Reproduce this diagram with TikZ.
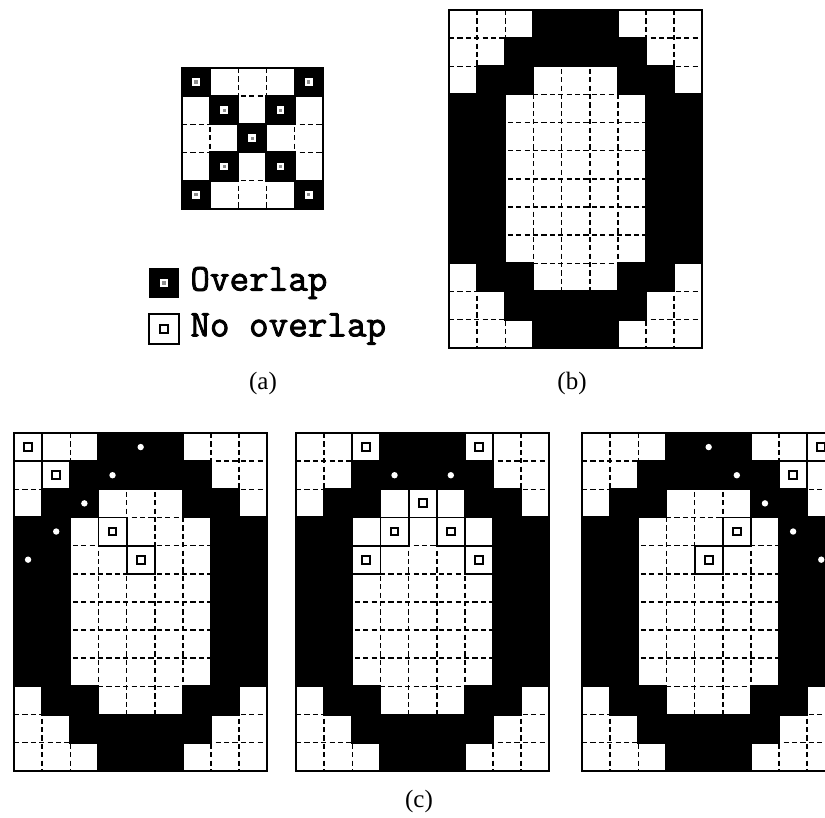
\documentclass[tikz,border=0pt]{standalone}
\usepackage{fontspec}
\setmainfont{Liberation Serif}
\setmonofont[AutoFakeBold=2.2]{Latin Modern Mono}
\usetikzlibrary{positioning}

% the 9x12 footprint with its overlap cells
\newcommand{\ovalgrid}{%
  \foreach \i in {1,...,8} \draw[gridline] (\i,0) -- (\i,12);
  \foreach \j in {1,...,11} \draw[gridline] (0,\j) -- (9,\j);
  \foreach \xa/\ya/\xb/\yb in {3/0/6/1, 2/1/7/2, 1/2/3/3, 6/2/8/3, 0/3/2/9,
      7/3/9/9, 1/9/3/10, 6/9/8/10, 2/10/7/11, 3/11/6/12}
    \draw[ovcell] (\xa,\ya) rectangle (\xb,\yb);
  \draw[frame] (0,0) rectangle (9,12);
}
% a marked cell without overlap, and one with overlap
\newcommand{\nocell}[2]{%
  \draw[cellbox] (#1,#2) rectangle ++(1,1);
  \draw[nomark] (#1+.36,#2+.36) rectangle ++(.28,.28);
}
\newcommand{\ovcelldot}[2]{\fill[white] (#1+.5,#2+.5) circle[radius=1.6pt];}

\begin{document}
\begin{tikzpicture}[x=0.5pt, y=-0.5pt,
  gridline/.style={line width=0.75pt, dash pattern=on 2.6pt off 1.6pt},
  ovcell/.style={fill=black, draw=black, line width=1pt},
  frame/.style={line width=1pt},
  cellbox/.style={line width=0.9pt},
  nomark/.style={line width=1pt, fill=white},
  ovmark/.style={draw=white, line width=1.1pt, fill=black!45},
  caption/.style={font=\fontsize{12.5}{15}\selectfont, inner sep=0pt},
  legend/.style={font=\ttfamily\bfseries\fontsize{19}{22}\selectfont, anchor=west, inner sep=0pt}
]
  \useasboundingbox (0,0) rectangle (825,818);
  \clip (0,0) rectangle (825,818);

  % (a) the 5x5 kernel
  \begin{scope}[shift={(182,68)}, x=14.075pt, y=-14.075pt]
    \foreach \i in {1,...,4} {
      \draw[gridline] (\i,0) -- (\i,5);
      \draw[gridline] (0,\i) -- (5,\i);
    }
    \foreach \r in {0,...,4} {
      \draw[ovcell] (\r,\r) rectangle ++(1,1);
      \draw[ovcell] (4-\r,\r) rectangle ++(1,1);
    }
    \foreach \r in {0,...,4} {
      \draw[ovmark] (\r+.4,\r+.4) rectangle ++(.2,.2);
      \draw[ovmark] (4-\r+.4,\r+.4) rectangle ++(.2,.2);
    }
    \draw[frame] (0,0) rectangle (5,5);
  \end{scope}

  % legend
  \fill (149,268) rectangle (179,298);
  \draw[ovmark] (161,280) rectangle (167,286);
  \node[legend] (ovtext) at (190,283) {Overlap};
  \draw[cellbox] (149,314) rectangle (179,344);
  \draw[nomark] (160,325) rectangle (168,333);
  \node[legend] (notext) at (190,329) {No overlap};

  % (b) the footprint
  \begin{scope}[shift={(449,10)}, x=14.075pt, y=-14.075pt]
    \ovalgrid
  \end{scope}

  % (c) kernel at three positions
  \begin{scope}[shift={(14,433)}, x=14.075pt, y=-14.075pt]
    \ovalgrid
    \foreach \c/\r in {0/0, 1/1, 3/3, 4/4} {\nocell{\c}{\r}}
    \foreach \c/\r in {2/2, 4/0, 3/1, 1/3, 0/4} {\ovcelldot{\c}{\r}}
  \end{scope}
  \begin{scope}[shift={(296,433)}, x=14.075pt, y=-14.075pt]
    \ovalgrid
    \foreach \c/\r in {2/0, 6/0, 4/2, 3/3, 5/3, 2/4, 6/4} {\nocell{\c}{\r}}
    \foreach \c/\r in {3/1, 5/1} {\ovcelldot{\c}{\r}}
  \end{scope}
  \begin{scope}[shift={(582,433)}, x=14.075pt, y=-14.075pt]
    \ovalgrid
    \foreach \c/\r in {8/0, 7/1, 5/3, 4/4} {\nocell{\c}{\r}}
    \foreach \c/\r in {4/0, 5/1, 6/2, 7/3, 8/4} {\ovcelldot{\c}{\r}}
  \end{scope}

  % captions
  \node[caption] (capa) at (263,383) {(a)};
  \node[caption] (capb) at (572,383) {(b)};
  \node[caption] (capc) at (419,801) {(c)};
\end{tikzpicture}
\end{document}
